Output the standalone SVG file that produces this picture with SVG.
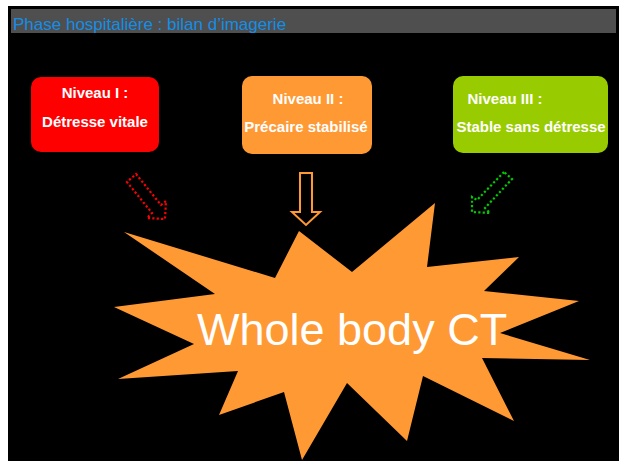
<svg xmlns="http://www.w3.org/2000/svg" width="619" height="461" viewBox="0 0 619 461">
<style>
.box-t{font-family:"Liberation Sans",Arial,sans-serif;font-weight:bold;font-size:15px;fill:#ffffff;text-anchor:middle}
.dot{fill:none;stroke-width:2.2;stroke-dasharray:2.2 2.2}
</style>
<rect x="0" y="0" width="619" height="461" fill="#ffffff"/>
<rect x="8" y="6" width="611" height="455" fill="#000000"/>
<rect x="11" y="9" width="605" height="24" fill="#4f4f4f"/>
<text x="13" y="30" font-family="Liberation Sans,Arial,sans-serif" font-size="17" fill="#128ee6">Phase hospitalière : bilan d’imagerie</text>

<g id="star">
<polygon points="124,232 275,278 299,231 352,272 435,203 427,267 519,257 484,291 579,301 500,333 590,360 482,358 514,421 423,376 407,441 347,383 302,460 284,392 219,415 238,371 118,379 194,344 114,307 215,294" fill="#ff9933"/>
<text x="197" y="345" font-family="Liberation Sans,Arial,sans-serif" font-size="45" fill="#ffffff">Whole body CT</text>
</g>

<g id="niveau1">
<rect x="31" y="77" width="128" height="75" rx="10" fill="#ff0000"/>
<text class="box-t" x="95" y="98">Niveau I :</text>
<text class="box-t" x="95" y="127">Détresse vitale</text>
</g>
<g id="niveau2">
<rect x="242" y="76" width="130" height="78" rx="10" fill="#ff9933"/>
<text class="box-t" x="308" y="104">Niveau II :</text>
<text class="box-t" x="306" y="132">Précaire stabilisé</text>
</g>
<g id="niveau3">
<rect x="453" y="76" width="155" height="77" rx="10" fill="#99cc00"/>
<text class="box-t" x="505" y="104">Niveau III :</text>
<text class="box-t" x="531" y="132">Stable sans détresse</text>
</g>

<g id="connectors">
<polygon class="dot" stroke="#ff0000" points="136,174 161,205 166,201 165,219 147,218 152,213 127,182"/>
<polygon fill="none" stroke="#ff9933" stroke-width="2" points="300,173 312,173 312,212 320,212 306,225 292,212 300,212"/>
<polygon class="dot" stroke="#00cc00" points="504,172 477,200 472,197 472,212 490,213 485,208 512,179"/>
</g>
</svg>
